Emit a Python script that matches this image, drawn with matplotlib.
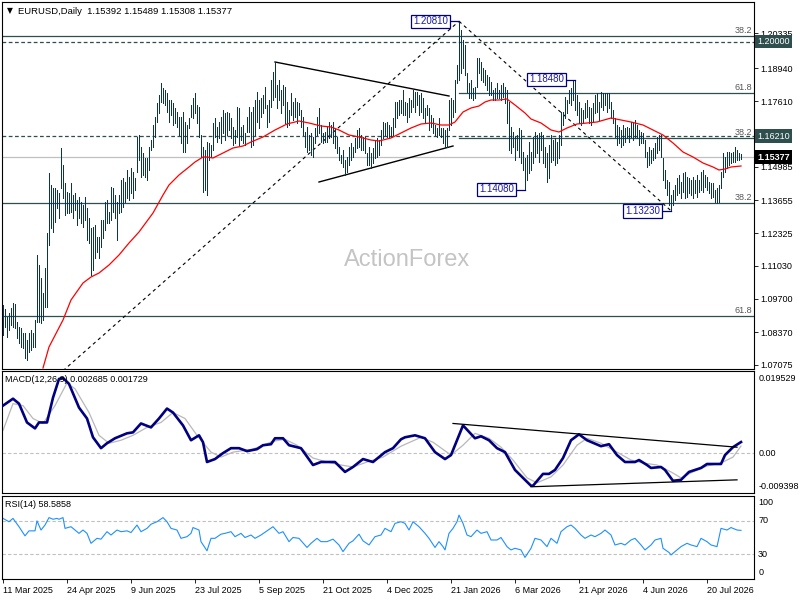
import matplotlib
matplotlib.use("Agg")
import matplotlib.pyplot as plt
import numpy as np

plt.rcParams['font.family'] = ['Liberation Sans', 'DejaVu Sans']

# ---------------- data ----------------
highs = [
1.0946,1.0930,1.0898,1.0914,1.0934,1.0954,1.0950,1.0878,1.0858,1.0854,
1.0834,1.0834,1.0806,1.0834,1.0846,1.0834,1.0886,1.1146,1.1106,1.1054,
1.0994,1.1094,1.1234,1.1474,1.1426,1.1414,1.1414,1.1406,1.1394,1.1574,
1.1506,1.1434,1.1398,1.1394,1.1434,1.1386,1.1394,1.1366,1.1378,1.1358,
1.1346,1.1378,1.1334,1.1294,1.1254,1.1258,1.1266,1.1218,1.1218,1.1286,
1.1286,1.1358,1.1366,1.1318,1.1418,1.1414,1.1386,1.1358,1.1386,1.1446,
1.1454,1.1438,1.1486,1.1458,1.1494,1.1478,1.1454,1.1618,1.1626,1.1578,
1.1554,1.1534,1.1534,1.1578,1.1606,1.1666,1.1698,1.1754,1.1786,1.1834,
1.1814,1.1806,1.1794,1.1766,1.1766,1.1754,1.1734,1.1718,1.1698,1.1698,
1.1718,1.1678,1.1666,1.1694,1.1746,1.1774,1.1794,1.1746,1.1738,1.1626,
1.1578,1.1566,1.1598,1.1594,1.1586,1.1674,1.1694,1.1658,1.1678,1.1698,
1.1726,1.1714,1.1718,1.1714,1.1694,1.1658,1.1646,1.1738,1.1734,1.1658,
1.1666,1.1634,1.1698,1.1738,1.1718,1.1738,1.1766,1.1798,1.1766,1.1774,
1.1786,1.1818,1.1746,1.1766,1.1846,1.1878,1.1918,1.1826,1.1846,1.1806,
1.1826,1.1818,1.1758,1.1726,1.1794,1.1758,1.1774,1.1758,1.1754,1.1726,
1.1698,1.1638,1.1658,1.1626,1.1634,1.1618,1.1654,1.1698,1.1734,1.1666,
1.1634,1.1638,1.1658,1.1678,1.1666,1.1678,1.1654,1.1618,1.1578,1.1546,
1.1566,1.1526,1.1538,1.1578,1.1594,1.1578,1.1614,1.1646,1.1654,1.1626,
1.1618,1.1618,1.1554,1.1578,1.1554,1.1574,1.1606,1.1614,1.1606,1.1646,
1.1678,1.1674,1.1678,1.1666,1.1658,1.1694,1.1758,1.1758,1.1766,1.1766,
1.1806,1.1758,1.1754,1.1774,1.1766,1.1806,1.1798,1.1798,1.1786,1.1794,
1.1774,1.1734,1.1746,1.1734,1.1706,1.1694,1.1666,1.1654,1.1694,1.1654,
1.1654,1.1646,1.1654,1.1766,1.1774,1.1766,1.1846,1.1906,1.2081,1.2046,
1.2006,1.1986,1.1874,1.1834,1.1846,1.1814,1.1818,1.1934,1.1934,1.1918,
1.1894,1.1886,1.1866,1.1858,1.1838,1.1806,1.1814,1.1834,1.1806,1.1826,
1.1834,1.1818,1.1806,1.1758,1.1658,1.1638,1.1618,1.1626,1.1654,1.1646,
1.1558,1.1534,1.1546,1.1598,1.1558,1.1618,1.1638,1.1626,1.1634,1.1638,
1.1626,1.1578,1.1554,1.1586,1.1626,1.1606,1.1614,1.1598,1.1626,1.1718,
1.1718,1.1778,1.1766,1.1806,1.1814,1.1846,1.1848,1.1786,1.1758,1.1734,
1.1726,1.1754,1.1766,1.1738,1.1734,1.1754,1.1786,1.1794,1.1758,1.1798,
1.1794,1.1794,1.1794,1.1794,1.1758,1.1726,1.1694,1.1666,1.1658,1.1646,
1.1666,1.1654,1.1658,1.1654,1.1678,1.1674,1.1686,1.1666,1.1646,1.1638,
1.1634,1.1606,1.1558,1.1578,1.1566,1.1574,1.1594,1.1618,1.1626,1.1626,
1.1534,1.1486,1.1446,1.1438,1.1386,1.1406,1.1426,1.1454,1.1466,1.1438,
1.1474,1.1478,1.1458,1.1454,1.1446,1.1458,1.1446,1.1466,1.1446,1.1478,
1.1486,1.1466,1.1458,1.1438,1.1434,1.1434,1.1406,1.1414,1.1426,1.1478,
1.1554,1.1538,1.1558,1.1558,1.1554,1.1558,1.1578,1.1566,1.1554,1.15489,
]
lows = [
1.0826,1.0858,1.0818,1.0846,1.0866,1.0858,1.0854,1.0814,1.0794,1.0778,
1.0774,1.0734,1.0726,1.0758,1.0766,1.0778,1.0778,1.0878,1.0878,1.0874,
1.0886,1.0938,1.0938,1.1186,1.1254,1.1238,1.1278,1.1334,1.1294,1.1414,
1.1374,1.1306,1.1314,1.1314,1.1318,1.1294,1.1326,1.1266,1.1294,1.1274,
1.1258,1.1286,1.1206,1.1194,1.1066,1.1086,1.1134,1.1158,1.1134,1.1178,
1.1214,1.1246,1.1274,1.1274,1.1286,1.1318,1.1294,1.1206,1.1314,1.1318,
1.1338,1.1358,1.1374,1.1366,1.1394,1.1374,1.1406,1.1478,1.1526,1.1458,
1.1466,1.1458,1.1446,1.1486,1.1566,1.1578,1.1618,1.1678,1.1714,1.1758,
1.1754,1.1746,1.1718,1.1678,1.1706,1.1666,1.1674,1.1658,1.1626,1.1594,
1.1558,1.1558,1.1594,1.1654,1.1698,1.1694,1.1714,1.1674,1.1618,1.1538,
1.1398,1.1406,1.1386,1.1526,1.1538,1.1566,1.1618,1.1598,1.1614,1.1594,
1.1634,1.1606,1.1626,1.1646,1.1614,1.1586,1.1594,1.1618,1.1586,1.1606,
1.1594,1.1586,1.1638,1.1638,1.1578,1.1586,1.1626,1.1678,1.1654,1.1698,
1.1714,1.1734,1.1658,1.1678,1.1738,1.1766,1.1778,1.1734,1.1766,1.1714,
1.1746,1.1674,1.1658,1.1666,1.1706,1.1686,1.1698,1.1674,1.1706,1.1658,
1.1626,1.1578,1.1558,1.1566,1.1546,1.1538,1.1594,1.1626,1.1634,1.1598,
1.1594,1.1598,1.1598,1.1614,1.1618,1.1594,1.1574,1.1554,1.1526,1.1514,
1.1498,1.1466,1.1478,1.1506,1.1526,1.1538,1.1558,1.1574,1.1578,1.1566,
1.1566,1.1554,1.1506,1.1506,1.1494,1.1514,1.1534,1.1538,1.1546,1.1586,
1.1614,1.1626,1.1618,1.1614,1.1618,1.1626,1.1658,1.1694,1.1706,1.1714,
1.1706,1.1706,1.1678,1.1698,1.1718,1.1738,1.1718,1.1746,1.1706,1.1718,
1.1694,1.1678,1.1706,1.1646,1.1658,1.1634,1.1626,1.1618,1.1626,1.1618,
1.1594,1.1578,1.1578,1.1646,1.1666,1.1698,1.1718,1.1834,1.1846,1.1874,
1.1894,1.1866,1.1798,1.1774,1.1774,1.1766,1.1774,1.1818,1.1874,1.1846,
1.1838,1.1826,1.1806,1.1786,1.1786,1.1766,1.1766,1.1774,1.1774,1.1766,
1.1778,1.1754,1.1674,1.1566,1.1554,1.1578,1.1526,1.1566,1.1538,1.1514,
1.1486,1.1408,1.1446,1.1474,1.1486,1.1514,1.1538,1.1554,1.1518,1.1566,
1.1514,1.1498,1.1438,1.1454,1.1518,1.1526,1.1506,1.1514,1.1534,1.1586,
1.1666,1.1694,1.1714,1.1754,1.1746,1.1766,1.1726,1.1706,1.1674,1.1666,
1.1674,1.1694,1.1698,1.1674,1.1666,1.1678,1.1714,1.1718,1.1686,1.1738,
1.1726,1.1746,1.1718,1.1734,1.1694,1.1674,1.1618,1.1586,1.1594,1.1578,
1.1586,1.1598,1.1614,1.1598,1.1618,1.1606,1.1618,1.1614,1.1586,1.1594,
1.1594,1.1538,1.1498,1.1506,1.1514,1.1526,1.1534,1.1554,1.1566,1.1538,
1.1446,1.1414,1.1386,1.1346,1.1323,1.1346,1.1366,1.1386,1.1394,1.1374,
1.1398,1.1374,1.1378,1.1394,1.1386,1.1374,1.1394,1.1378,1.1398,1.1406,
1.1398,1.1418,1.1406,1.1394,1.1374,1.1378,1.1358,1.1354,1.1358,1.1414,
1.1458,1.1478,1.1494,1.1506,1.1514,1.1518,1.1518,1.1526,1.1526,1.15308,
]

ma_idx = [20,23,30,34,40,44,48,53,58,63,68,75,80,83,88,93,96,100,102,105,110,115,120,124,130,
          136,142,148,153,159,164,168,173,178,184,188,194,199,204,209,214,219,223,226,230,234,
          238,241,244,248,252,256,261,264,269,274,278,282,287,292,297,304,309,314,320,327,330,
          335,340,345,350,355,358,361,364,369]
ma_val = [1.0694,1.0778,1.0886,1.0966,1.1034,1.1058,1.1074,1.1106,1.1146,1.1194,1.1238,1.1314,
          1.1386,1.1426,1.1466,1.1498,1.1518,1.1538,1.1538,1.1534,1.1554,1.1574,1.1582,1.1598,
          1.1618,1.1646,1.1670,1.1682,1.1674,1.1662,1.1658,1.1646,1.1626,1.1618,1.1606,1.1602,
          1.1614,1.1634,1.1654,1.1670,1.1674,1.1666,1.1666,1.1678,1.1718,1.1734,1.1742,1.1758,
          1.1766,1.1766,1.1770,1.1746,1.1714,1.1690,1.1674,1.1646,1.1638,1.1654,1.1670,1.1674,
          1.1678,1.1694,1.1686,1.1678,1.1666,1.1638,1.1626,1.1594,1.1558,1.1538,1.1514,1.1498,
          1.1486,1.1490,1.1498,1.1502]

macd_idx = [0,5,8,12,16,18,22,25,28,30,33,38,42,45,49,52,56,62,65,69,74,78,82,85,90,94,98,100,
            102,106,110,114,118,122,127,130,134,136,140,143,149,155,159,166,171,175,180,185,191,
            195,199,201,206,211,216,221,224,228,230,236,239,243,247,251,256,261,264,265,270,273,
            276,280,284,288,292,299,303,307,311,316,318,322,324,329,331,335,339,343,349,352,359,
            361,365,369]
macd_val = [0.01132,0.01296,0.01179,0.00733,0.00592,0.00733,0.00733,0.01320,0.01765,0.01789,
            0.01648,0.01085,0.00827,0.00381,0.00123,0.00240,0.00358,0.00475,0.00498,0.00709,
            0.00616,0.00827,0.01062,0.00968,0.00663,0.00311,0.00428,0.00264,-0.00205,-0.00135,
            0.00006,0.00123,0.00123,0.00053,0.00100,0.00193,0.00217,0.00358,0.00358,0.00193,
            0.00123,-0.00276,-0.00205,-0.00205,-0.00440,-0.00323,-0.00135,-0.00205,0.00029,0.00123,
            0.00334,0.00381,0.00428,0.00358,0.00029,-0.00135,-0.00041,0.00428,0.00663,0.00358,
            0.00405,0.00311,0.00123,0.00029,-0.00393,-0.00628,-0.00768,-0.00768,-0.00487,-0.00487,
            -0.00393,-0.00111,0.00311,0.00452,0.00311,0.00170,0.00217,-0.00041,-0.00205,-0.00205,
            -0.00158,-0.00276,-0.00346,-0.00323,-0.00393,-0.00651,-0.00628,-0.00440,-0.00346,-0.00252,
            -0.00252,-0.00041,0.00147,0.002685]
sig_idx = [0,5,10,15,20,26,32,36,43,48,53,59,65,72,79,85,91,97,104,109,115,125,135,141,147,155,
           162,169,175,182,190,199,209,215,224,230,236,243,249,255,262,267,274,280,287,292,299,
           307,314,320,327,334,339,345,352,359,365,369]
sig_val = [0.00545,0.01179,0.01132,0.00827,0.00709,0.01132,0.01671,0.01531,0.00968,0.00428,
           0.00240,0.00311,0.00428,0.00616,0.00733,0.00968,0.00827,0.00428,0.00029,-0.00088,
           0.00029,0.00100,0.00287,0.00334,0.00193,-0.00111,-0.00205,-0.00276,-0.00323,-0.00205,
           -0.00088,0.00170,0.00381,0.00264,-0.00041,0.00193,0.00475,0.00358,0.00147,-0.00158,
           -0.00581,-0.00698,-0.00557,-0.00276,0.00193,0.00358,0.00240,0.00029,-0.00158,-0.00229,
           -0.00276,-0.00440,-0.00581,-0.00440,-0.00299,-0.00229,-0.00088,0.001729]

rsi_idx = [0,3,5,8,11,13,16,17,19,21,23,25,27,28,30,31,34,36,38,40,42,44,47,49,52,54,57,59,62,64,
           67,69,72,74,77,80,82,84,87,89,92,94,95,98,99,102,104,106,109,111,114,116,119,121,124,
           126,129,132,135,138,140,143,145,148,152,154,157,159,162,165,168,170,173,175,178,180,
           183,186,189,191,194,196,199,201,203,205,208,211,213,216,218,220,221,223,225,227,228,
           230,232,234,237,239,242,244,247,249,252,254,256,259,261,264,266,269,272,274,277,279,
           282,284,286,289,291,294,296,299,301,304,306,309,311,314,316,319,321,324,326,329,330,
           333,334,337,339,342,344,347,349,352,354,357,359,362,364,367,369]
rsi_val = [73,69,73,63,52,58,58,70,59,65,74,72,73,72,74,61,63,59,55,59,55,43,49,48,57,53,59,57,
           58,56,65,57,61,66,69,74,69,61,59,49,51,55,62,59,45,34,49,49,54,55,57,51,55,50,53,49,
           53,58,63,55,57,45,50,49,38,43,49,45,45,48,41,33,43,46,54,46,41,51,53,61,57,67,69,67,
           59,69,63,55,49,38,45,39,35,55,61,69,77,67,53,51,59,55,57,47,47,50,39,35,37,35,26,37,
           49,47,39,49,43,57,63,65,61,53,49,53,51,55,59,53,41,43,41,47,49,41,35,41,47,49,37,32,
           29,35,39,43,41,39,49,45,41,39,61,59,62,59,58.5858]

date_labels = ['11 Mar 2025', '24 Apr 2025', '9 Jun 2025', '23 Jul 2025', '5 Sep 2025',
               '21 Oct 2025', '4 Dec 2025', '21 Jan 2026', '6 Mar 2026', '21 Apr 2026',
               '4 Jun 2026', '20 Jul 2026']
bars_per_label = 32
price_ticks = [1.20335, 1.18940, 1.17610, 1.14985, 1.13655, 1.12325, 1.11030, 1.09700,
               1.08370, 1.07075]

full_solid_levels = [(1.2022, '38.2'), (1.1355, '38.2'), (1.0902, '61.8')]
partial_solid_levels = [(1.1793, '61.8'), (1.1615, '38.2')]
partial_start = 228
dashed_levels = [1.2000, 1.1621]
last_close = 1.15377

trend_up = ([30, 228], [1.0683, 1.2081])
trend_down = ([228, 334], [1.2081, 1.1323])
tri_upper = ([136, 223], [1.1918, 1.1782])
tri_lower = ([158, 225], [1.1438, 1.1582])
swing_labels = [(228, 1.2081, '1.20810'), (286, 1.1848, '1.18480'),
                (261, 1.1408, '1.14080'), (334, 1.1323, '1.13230')]
macd_upper = ([225, 367], [0.00709, 0.00146])
macd_lower = ([264, 367], [-0.00792, -0.00628])

# ---------------- figure ----------------
W, H = 800, 600
fig = plt.figure(figsize=(8, 6), dpi=100)
fig.patch.set_facecolor('white')

def rect(x0, y0, x1, y1):
    return [x0 / W, 1 - y1 / H, (x1 - x0) / W, (y1 - y0) / H]

ax1 = fig.add_axes(rect(2, 2, 754, 369))
ax2 = fig.add_axes(rect(2, 371, 754, 493))
ax3 = fig.add_axes(rect(2, 496, 754, 579))

BAR = '#0b3650'
LEV = '#2f4f4f'
FS = 6.5
for ax in (ax1, ax2, ax3):
    ax.set_xlim(-0.5, 375.5)
    for s in ax.spines.values():
        s.set_linewidth(0.8)
        s.set_color('black')
    ax.set_xticks([])
    ax.set_yticks([])

# ---- price panel ----
ax1.set_ylim(1.0690, 1.2158)
idx = np.arange(len(highs))
ax1.text(0.5386, 0.297, 'ActionForex', transform=ax1.transAxes, color='#c4c4c4',
         fontsize=17, ha='center', va='center', zorder=0)
ax1.axhline(last_close, color='#c0c0c0', lw=0.9, zorder=1)
for lv, _ in full_solid_levels:
    ax1.axhline(lv, color=LEV, lw=0.9, zorder=1)
for lv in dashed_levels:
    ax1.axhline(lv, color=LEV, lw=0.9, ls=(0, (3, 2)), zorder=1)
for lv, _ in partial_solid_levels:
    ax1.plot([partial_start, 375.5], [lv, lv], color=LEV, lw=0.9, zorder=1)
for lv, t in full_solid_levels + partial_solid_levels:
    ax1.text(0.998, lv + 0.0004, t, transform=ax1.get_yaxis_transform(), ha='right',
             va='bottom', fontsize=FS, color='#555555')

ax1.plot(*trend_up, color='black', lw=0.8, ls=(0, (3, 3)), zorder=2)
ax1.plot(*trend_down, color='black', lw=0.8, ls=(0, (3, 3)), zorder=2)
ax1.plot(*tri_upper, color='black', lw=1.0, zorder=2)
ax1.plot(*tri_lower, color='black', lw=1.0, zorder=2)

ax1.vlines(idx, lows, highs, colors=BAR, lw=0.72, zorder=3, antialiased=False)
ax1.plot(ma_idx, ma_val, color='#ff0000', lw=0.9, zorder=4)

for i, p, t in swing_labels:
    ax1.plot([i - 5.5, i], [p, p], color='#000080', lw=0.9, zorder=5)
    ax1.text(i - 5.5, p, t, ha='right', va='center', fontsize=7, color='#1a1aa6', zorder=6,
             bbox=dict(boxstyle='square,pad=0.18', fc='white', ec='#000080', lw=0.9))

ax1.yaxis.tick_right()
ax1.set_yticks(price_ticks)
ax1.set_yticklabels([f'{v:.5f}' for v in price_ticks])
ax1.tick_params(axis='y', labelsize=FS, length=3, width=0.6, pad=1.5)

ytr = ax1.get_yaxis_transform()
box_x = 1.0045
ax1.text(box_x, 1.2000, '1.20000', transform=ytr, ha='left', va='center', fontsize=FS,
         color='white', clip_on=False, zorder=10,
         bbox=dict(boxstyle='square,pad=0.25', fc='#2f4f4f', ec='none'))
ax1.text(box_x, 1.1621, '1.16210', transform=ytr, ha='left', va='center', fontsize=FS,
         color='white', clip_on=False, zorder=10,
         bbox=dict(boxstyle='square,pad=0.25', fc='#2f4f4f', ec='none'))
ax1.text(box_x, last_close, f'{last_close:.5f}', transform=ytr, ha='left', va='center',
         fontsize=FS, color='white', fontweight='bold', clip_on=False, zorder=10,
         bbox=dict(boxstyle='square,pad=0.25', fc='black', ec='none'))

fig.text(7 / W, 1 - 11 / H, '\u25bc', fontsize=5.5, va='center', ha='left',
         family=['DejaVu Sans'])
fig.text(18 / W, 1 - 11 / H, 'EURUSD,Daily  1.15392 1.15489 1.15308 1.15377',
         fontsize=6.8, va='center', ha='left')

# ---- MACD panel ----
ax2.set_ylim(-0.009398, 0.019529)
ax2.axhline(0, color='#c0c0c0', lw=0.8, ls=(0, (3, 2)))
ax2.plot(sig_idx, sig_val, color='#b8b8b8', lw=0.9, zorder=2)
ax2.plot(macd_idx, macd_val, color='#000080', lw=1.9, zorder=3)
ax2.plot(*macd_upper, color='black', lw=0.9, zorder=4)
ax2.plot(*macd_lower, color='black', lw=0.9, zorder=4)
ax2.text(0.004, 0.93, 'MACD(12,26,9) 0.002685 0.001729', transform=ax2.transAxes,
         fontsize=FS, va='center', ha='left', zorder=5)
ax2.text(1.0055, 0.935, '0.019529', transform=ax2.transAxes, fontsize=FS, va='center',
         ha='left', clip_on=False)
ax2.text(1.0055, 0.0, '0.00', transform=ax2.get_yaxis_transform(), fontsize=FS,
         va='center', ha='left', clip_on=False)
ax2.text(1.0055, 0.05, '-0.009398', transform=ax2.transAxes, fontsize=FS, va='center',
         ha='left', clip_on=False)

# ---- RSI panel ----
ax3.set_ylim(0, 100)
for lv in (70, 30):
    ax3.axhline(lv, color='#c0c0c0', lw=0.8, ls=(0, (3, 2)))
ax3.plot(rsi_idx, rsi_val, color='#1e90ff', lw=0.8)
ax3.text(0.004, 0.9, 'RSI(14) 58.5858', transform=ax3.transAxes, fontsize=FS,
         va='center', ha='left')
rtr = ax3.get_yaxis_transform()
ax3.text(1.0055, 0.92, '100', transform=ax3.transAxes, fontsize=FS, va='center', ha='left',
         clip_on=False)
ax3.text(1.0055, 70, '70', transform=rtr, fontsize=FS, va='center', ha='left', clip_on=False)
ax3.text(1.0055, 30, '30', transform=rtr, fontsize=FS, va='center', ha='left', clip_on=False)
ax3.text(1.0055, 0.08, '0', transform=ax3.transAxes, fontsize=FS, va='center', ha='left',
         clip_on=False)

tick_pos = [k * bars_per_label for k in range(len(date_labels))]
ax3.set_xticks(tick_pos)
ax3.set_xticklabels(date_labels, ha='left', fontsize=FS)
ax3.tick_params(axis='x', length=3, width=0.6, pad=2)

fig.savefig('out.png', dpi=100)
